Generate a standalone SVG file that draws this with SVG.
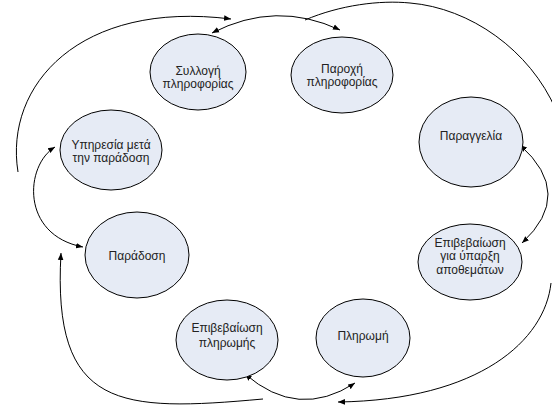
<svg xmlns="http://www.w3.org/2000/svg" width="552" height="410" viewBox="0 0 552 410">
<style>
.n ellipse{fill:#E6EBF5;stroke:#000;stroke-width:1}
.n text{font-family:"Liberation Sans",Arial,sans-serif;font-size:12px;fill:#222;text-anchor:middle}
.c path{fill:none;stroke:#000;stroke-width:1}
</style>
<defs>
<marker id="ah" viewBox="0 0 10 10" refX="10" refY="5" markerWidth="7" markerHeight="7" markerUnits="userSpaceOnUse" orient="auto-start-reverse">
<path d="M0,1 L10,5 L0,9 z" fill="#000"/>
</marker>
</defs>
<rect width="552" height="410" fill="#fff"/>
<g class="c" id="connectors">
<path d="M18,172 C4,85 80,0 231,19" marker-end="url(#ah)"/>
<path d="M212,33 Q276,0 340,30" marker-start="url(#ah)" marker-end="url(#ah)"/>
<path d="M305,20 C340,5 380,0 410,3 C470,8 530,50 556,110"/>
<path d="M520,145 Q575,194 522,243" marker-start="url(#ah)" marker-end="url(#ah)"/>
<path d="M551,283 C545,340 480,400 338,402" marker-end="url(#ah)"/>
<path d="M245,374 Q298,420 355,383" marker-start="url(#ah)" marker-end="url(#ah)"/>
<path d="M263,399 C120,412 52,410 61,253" marker-end="url(#ah)"/>
<path d="M55,147 C25,165 20,235 83,247" marker-start="url(#ah)" marker-end="url(#ah)"/>
</g>
<g class="n" id="n1"><ellipse cx="198" cy="72" rx="48" ry="38"/><text x="198" y="75">Συλλογή</text><text x="198" y="88">πληροφορίας</text></g>
<g class="n" id="n2"><ellipse cx="342" cy="75" rx="51" ry="38"/><text x="342" y="73">Παροχή</text><text x="342" y="86">πληροφορίας</text></g>
<g class="n" id="n3"><ellipse cx="471" cy="142" rx="52" ry="45"/><text x="471" y="140">Παραγγελία</text></g>
<g class="n" id="n4"><ellipse cx="470" cy="262" rx="52" ry="38"/><text x="470" y="247">Επιβεβαίωση</text><text x="470" y="260">για ύπαρξη</text><text x="470" y="274">αποθεμάτων</text></g>
<g class="n" id="n5"><ellipse cx="363" cy="338" rx="47" ry="39"/><text x="363" y="340">Πληρωμή</text></g>
<g class="n" id="n6"><ellipse cx="227" cy="340" rx="51" ry="40"/><text x="227" y="332">Επιβεβαίωση</text><text x="227" y="347">πληρωμής</text></g>
<g class="n" id="n7"><ellipse cx="137" cy="255" rx="52" ry="43"/><text x="137" y="260">Παράδοση</text></g>
<g class="n" id="n8"><ellipse cx="111" cy="150" rx="51" ry="40"/><text x="111" y="149">Υπηρεσία μετά</text><text x="111" y="162">την παράδοση</text></g>
</svg>
